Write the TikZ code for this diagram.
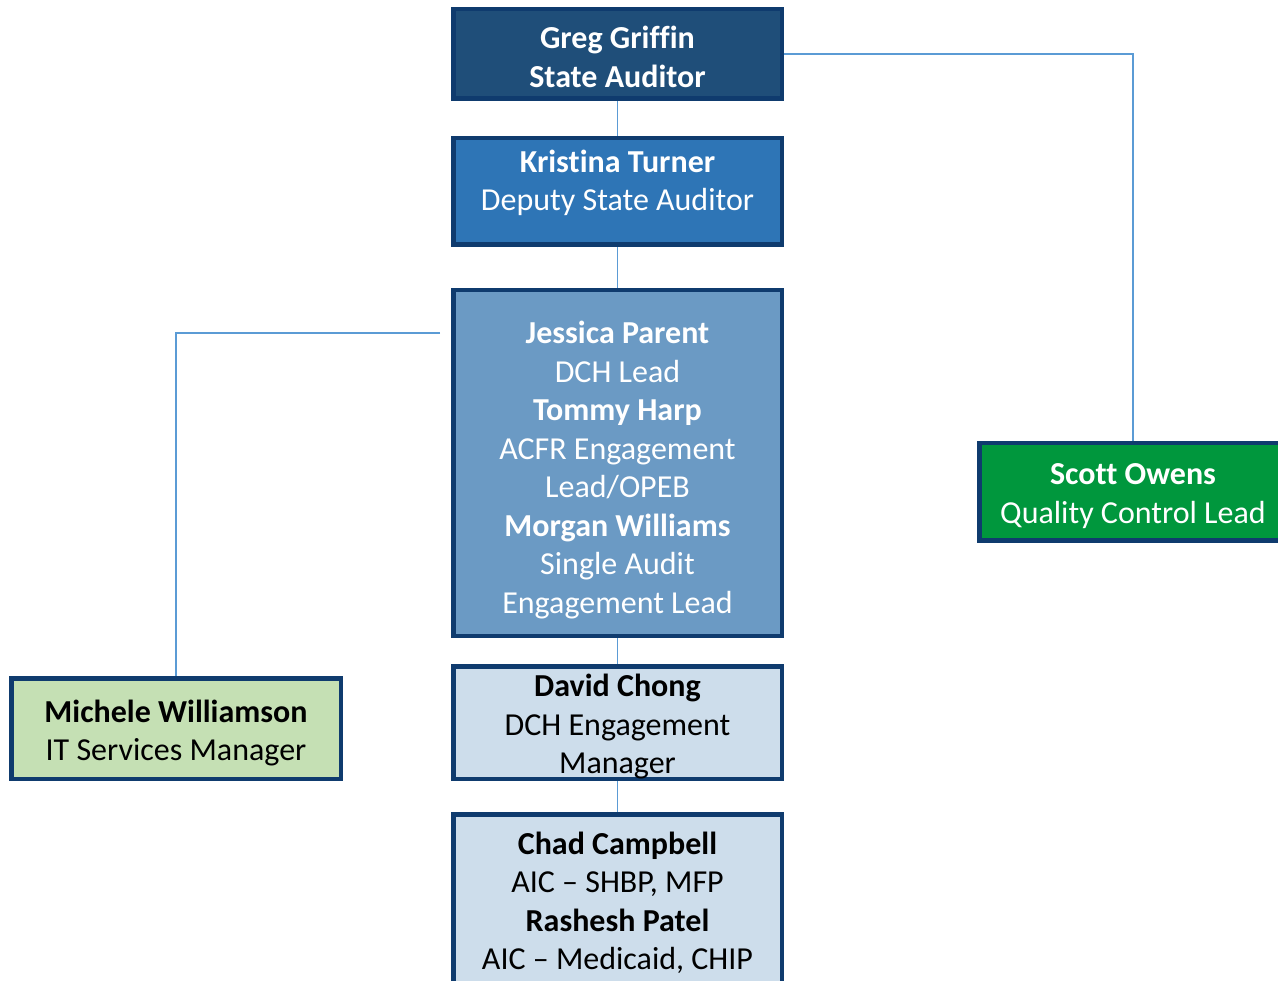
\documentclass[tikz,border=0pt]{standalone}
\usepackage{fontspec}
\setmainfont{Carlito}[RawFeature={-liga;-clig;-calt;-dlig}]
\usetikzlibrary{backgrounds}
\definecolor{navy}{HTML}{0F3B6E}
\definecolor{gregfill}{HTML}{1F4E79}
\definecolor{kristfill}{HTML}{2E75B6}
\definecolor{jessfill}{HTML}{6B9AC4}
\definecolor{palefill}{HTML}{CDDDEB}
\definecolor{greenpale}{HTML}{C5E0B4}
\definecolor{qcgreen}{HTML}{00973D}
\definecolor{connblue}{HTML}{5B9BD5}
\tikzset{
  box/.style={draw=navy, line width=4.5pt, rectangle, inner sep=0pt, outer sep=0pt},
  txt/.style={align=center, inner sep=0pt, font=\fontsize{32}{38.5}\selectfont},
  conn/.style={draw=connblue, line width=1.4pt}
}
\begin{document}
\begin{tikzpicture}[x=1pt,y=-1pt]
\clip (0,0) rectangle (1278,981);
% boxes
\node[box, fill=gregfill, minimum width=328.5pt, minimum height=89.5pt] (greg) at (617.5,54) {};
\node[box, fill=kristfill, minimum width=328.5pt, minimum height=106.5pt] (kristina) at (617.5,191.5) {};
\node[box, fill=jessfill, minimum width=328.5pt, minimum height=345.5pt] (jessica) at (617.5,463) {};
\node[box, fill=palefill, minimum width=328.5pt, minimum height=112.5pt] (david) at (617.5,722.5) {};
\node[box, fill=palefill, minimum width=328.5pt, minimum height=183.5pt] (chad) at (617.5,906) {};
\node[box, fill=greenpale, minimum width=329.5pt, minimum height=100.5pt] (michele) at (176,728.5) {};
\node[box, fill=qcgreen, minimum width=307.5pt, minimum height=97.5pt] (scott) at (1133,492) {};
% texts
\node[txt, text=white] (gregtxt) at (617.5,57) {\textbf{Greg Griffin}\\\textbf{State Auditor}};
\node[txt, text=white] (kristtxt) at (617.5,183) {\textbf{Kristina Turner}\\Deputy State Auditor};
\node[txt, text=white] (jesstxt) at (617.5,470) {\textbf{Jessica Parent}\\DCH Lead\\\textbf{Tommy Harp}\\ACFR Engagement\\Lead/OPEB\\\textbf{Morgan Williams}\\Single Audit\\Engagement Lead};
\node[txt, text=black] (davidtxt) at (617.5,727) {\textbf{David Chong}\\DCH Engagement\\Manager};
\node[txt, text=black] (chadtxt) at (617.5,903) {\textbf{Chad Campbell}\\AIC – SHBP, MFP\\\textbf{Rashesh Patel}\\AIC – Medicaid, CHIP};
\node[txt, text=black] (micheletxt) at (176,733) {\textbf{Michele Williamson}\\IT Services Manager};
\node[txt, text=white] (scotttxt) at (1133,496) {\textbf{Scott Owens}\\Quality Control Lead};
\coordinate (jm) at (440,333);
\begin{scope}[on background layer]
\fill[white] (0,0) rectangle (1278,981);
\draw[conn] (greg.south) -- (kristina.north);
\draw[conn] (kristina.south) -- (jessica.north);
\draw[conn] (jessica.south) -- (david.north);
\draw[conn] (david.south) -- (chad.north);
\draw[conn] (greg.east) -| (scott.north);
\draw[conn] (jm) -| (michele.north);
\end{scope}
\end{tikzpicture}
\end{document}
